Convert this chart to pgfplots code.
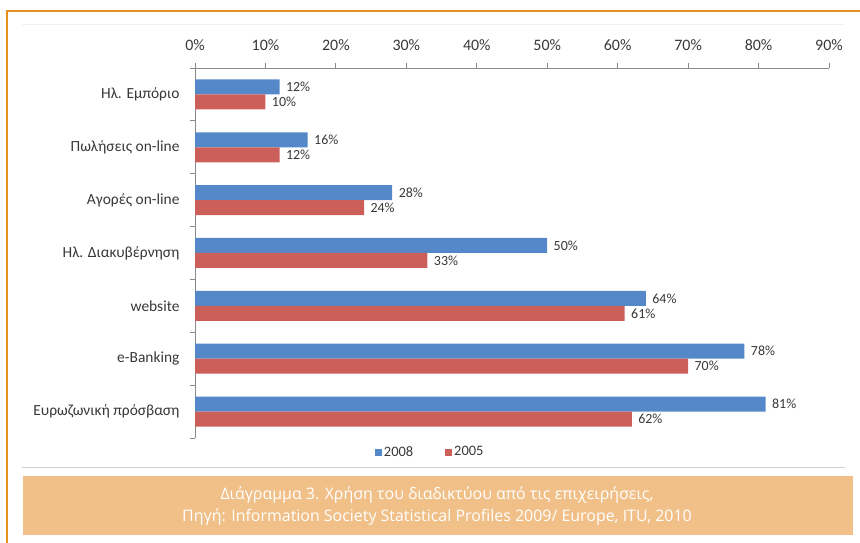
\documentclass[border=0pt]{standalone}
\usepackage{fontspec}
\setmainfont{Carlito}
\newfontfamily\capfont{Open Sans}
\usepackage{pgfplots}
\pgfplotsset{compat=1.18}

\definecolor{frame}{HTML}{E8901E}
\definecolor{capbox}{HTML}{F0C088}
\definecolor{blu}{HTML}{5588C8}
\definecolor{rd}{HTML}{CC5F5A}
\definecolor{txt}{HTML}{383838}
\definecolor{axl}{HTML}{8A8A8A}

\begin{document}
\begin{tikzpicture}[x=1bp,y=1bp]
  \useasboundingbox (0,0) rectangle (860,543);
  % frame and separators
  \draw[frame, line width=2.5bp] (7,0) -- (7,532) -- (860,532);
  \draw[black!6, line width=0.8bp] (22,519) -- (845,519);
  \draw[black!18, line width=0.8bp] (22,76) -- (845,76);
  \fill[capbox] (23,8) rectangle (853,67);
  \node[white, font=\capfont\fontsize{16}{19}\selectfont] at (437,48) {Διάγραμμα 3. Χρήση του διαδικτύου από τις επιχειρήσεις,};
  \node[white, font=\capfont\fontsize{16}{19}\selectfont] at (437,26) {Πηγή: Information Society Statistical Profiles 2009/ Europe, ITU, 2010};

  \begin{axis}[
      at={(195bp,105bp)}, anchor=south west,
      scale only axis, width=634bp, height=370bp,
      xbar, bar width=15bp,
      y dir=reverse,
      xmin=0, xmax=90, ymin=-0.5, ymax=6.5,
      axis x line*=top, axis y line*=left,
      axis line style={draw=axl, line width=0.8bp},
      /pgf/number format/assume math mode=true,
      xtick={0,10,...,90},
      xticklabel={\pgfmathprintnumber{\tick}\%},
      minor xtick={0,10,...,90},
      ytick={0,...,6},
      yticklabels={Ηλ. Εμπόριο, Πωλήσεις on-line, Αγορές on-line, Ηλ. Διακυβέρνηση, website, e-Banking, Ευρωζωνική πρόσβαση},
      minor ytick={-0.5,0.5,...,6.5},
      major tick length=0pt, minor tick length=5bp,
      tick align=outside,
      tick style={draw=axl, line width=0.8bp},
      xticklabel style={font=\fontsize{16}{18}\selectfont, text=txt, yshift=14bp},
      yticklabel style={font=\fontsize{15.5}{18}\selectfont, text=txt, xshift=-12bp},
      nodes near coords={\pgfmathprintnumber{\pgfplotspointmeta}\%},
      nodes near coords align={horizontal},
      every node near coord/.append style={font=\fontsize{14}{16}\selectfont, text=txt, xshift=3bp},
      legend style={at={(0.371,-0.038)}, anchor=center, draw=none, fill=none,
        legend columns=2, font=\fontsize{14.5}{16}\selectfont, text=txt,
        /tikz/every even column/.append style={column sep=30bp}},
      clip=false,
    ]
    \addplot[fill=blu, draw=none, bar shift=7.5bp,
      legend image code/.code={\fill[blu] (0bp,-3.5bp) rectangle (7bp,3.5bp);}]
      coordinates {(12,0) (16,1) (28,2) (50,3) (64,4) (78,5) (81,6)};
    \addplot[fill=rd, draw=none, bar shift=-7.5bp,
      legend image code/.code={\fill[rd] (0bp,-3.5bp) rectangle (7bp,3.5bp);}]
      coordinates {(10,0) (12,1) (24,2) (33,3) (61,4) (70,5) (62,6)};
    \legend{2008, 2005}
  \end{axis}
\end{tikzpicture}
\end{document}
